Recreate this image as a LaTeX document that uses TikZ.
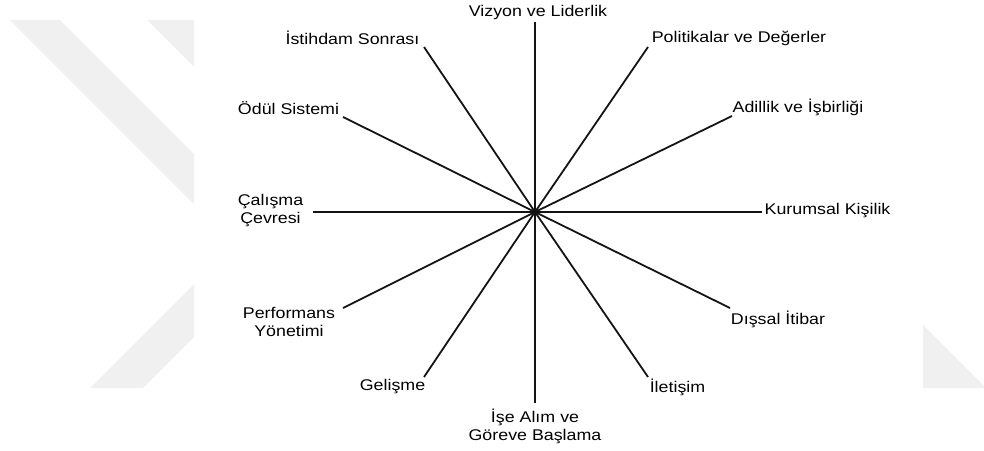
\documentclass[tikz,border=0pt]{standalone}
\usepackage{fontspec}
\setmainfont{Liberation Sans}[FakeStretch=1.15]
\usepackage{tikz}
\usetikzlibrary{positioning}
\usepackage{xcolor}
\definecolor{markcolor}{RGB}{240, 240, 240}
\definecolor{spokecolor}{RGB}{20, 20, 20}

\begin{document}
\begin{tikzpicture}[x=0.5pt, y=-0.5pt,
    itemlabel/.style={align=center, inner sep=0pt, font=\fontsize{7.75pt}{9pt}\selectfont},
    spoke/.style={-, line width=0.9pt, spokecolor},
    watermark/.style={fill=markcolor, draw=none}
]
\useasboundingbox (0,0) rectangle (984,450);

% Watermark
\fill[watermark] (10,20) -- (60,20) -- (194,154) -- (194,204) -- cycle;
\fill[watermark] (147,20) -- (194,20) -- (194,67) -- cycle;
\fill[watermark] (90,388) -- (143,388) -- (194,337) -- (194,284) -- cycle;
\fill[watermark] (923,325) -- (984,386) -- (984,388) -- (923,388) -- cycle;

% Center
\coordinate (hub) at (535,212);

% Line ends
\coordinate (e-viz) at (535,22);
\coordinate (e-pol) at (648,47);
\coordinate (e-adil) at (732,116);
\coordinate (e-kur) at (762,212);
\coordinate (e-dis) at (730,308);
\coordinate (e-ilet) at (648,377);
\coordinate (e-ise) at (535,403);
\coordinate (e-gel) at (424,377);
\coordinate (e-perf) at (343,308);
\coordinate (e-cal) at (313,212);
\coordinate (e-odul) at (343,117);
\coordinate (e-ist) at (424,47);

% Labels
\node[itemlabel] (viz) at (538,12) {Vizyon ve Liderlik};
\node[itemlabel] (pol) at (739,38) {Politikalar ve Değerler};
\node[itemlabel] (adil) at (798,107) {Adillik ve İşbirliği};
\node[itemlabel] (kur) at (827.5,211) {Kurumsal Kişilik};
\node[itemlabel] (dis) at (778,319) {Dışsal İtibar};
\node[itemlabel] (ilet) at (677.5,387) {İletişim};
\node[itemlabel] (ise) at (535,426.5) {İşe Alım ve\\Göreve Başlama};
\node[itemlabel] (gel) at (392.5,387) {Gelişme};
\node[itemlabel] (perf) at (289,322) {Performans\\Yönetimi};
\node[itemlabel] (cal) at (270.5,211) {Çalışma\\Çevresi};
\node[itemlabel] (odul) at (288.5,108) {Ödül Sistemi};
\node[itemlabel] (ist) at (352.5,38) {İstihdam Sonrası};

% Spokes
\foreach \n in {viz,pol,adil,kur,dis,ilet,ise,gel,perf,cal,odul,ist}
    \draw[spoke] (hub) -- (e-\n);

\end{tikzpicture}
\end{document}
